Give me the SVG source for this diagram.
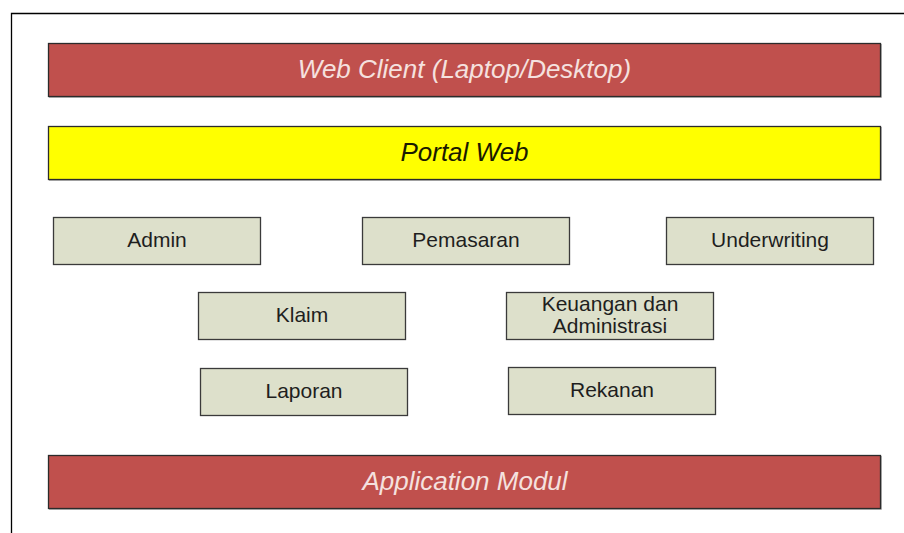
<svg xmlns="http://www.w3.org/2000/svg" width="904" height="533" viewBox="0 0 904 533">
  <style>
    .bar-red { fill: #C0504D; stroke: #2b2b2b; stroke-width: 1.3; }
    .bar-yel { fill: #FFFF00; stroke: #2b2b2b; stroke-width: 1.3; }
    .mod { fill: #DDE0CB; stroke: #3a3a3a; stroke-width: 1.3; }
    .shadow { fill: none; stroke: #b5b5b5; stroke-width: 1; }
    .title-w { font-family: "Liberation Sans", Arial, sans-serif; font-style: italic; font-size: 26px; fill: #F5E1DF; text-anchor: middle; }
    .title-k { font-family: "Liberation Sans", Arial, sans-serif; font-style: italic; font-size: 26px; fill: #1a1a00; text-anchor: middle; }
    .lbl { font-family: "Liberation Sans", Arial, sans-serif; font-size: 21px; fill: #1e1e1e; text-anchor: middle; }
  </style>

  <!-- page frame -->
  <path d="M11.5 533 V13.5 H904" fill="none" stroke="#000" stroke-width="1.3"/>

  <g id="web-client">
    <path class="shadow" d="M49 97.5 H881.5 V44"/>
    <rect class="bar-red" x="48.5" y="43.5" width="832" height="53"/>
    <text class="title-w" x="464.5" y="78">Web Client (Laptop/Desktop)</text>
  </g>

  <g id="portal-web">
    <path class="shadow" d="M49 180.5 H881.5 V127"/>
    <rect class="bar-yel" x="48.5" y="126.5" width="832" height="53"/>
    <text class="title-k" x="464.5" y="161">Portal Web</text>
  </g>

  <g id="admin">
    <rect class="mod" x="53.5" y="217.5" width="207" height="47"/>
    <text class="lbl" x="157" y="247">Admin</text>
  </g>

  <g id="pemasaran">
    <rect class="mod" x="362.5" y="217.5" width="207" height="47"/>
    <text class="lbl" x="466" y="247">Pemasaran</text>
  </g>

  <g id="underwriting">
    <rect class="mod" x="666.5" y="217.5" width="207" height="47"/>
    <text class="lbl" x="770" y="247">Underwriting</text>
  </g>

  <g id="klaim">
    <rect class="mod" x="198.5" y="292.5" width="207" height="47"/>
    <text class="lbl" x="302" y="322">Klaim</text>
  </g>

  <g id="keuangan-administrasi">
    <rect class="mod" x="506.5" y="292.5" width="207" height="47"/>
    <text class="lbl" x="610" y="311">Keuangan dan</text>
    <text class="lbl" x="610" y="333">Administrasi</text>
  </g>

  <g id="laporan">
    <rect class="mod" x="200.5" y="368.5" width="207" height="47"/>
    <text class="lbl" x="304" y="398">Laporan</text>
  </g>

  <g id="rekanan">
    <rect class="mod" x="508.5" y="367.5" width="207" height="47"/>
    <text class="lbl" x="612" y="397">Rekanan</text>
  </g>

  <g id="application-modul">
    <path class="shadow" d="M49 509.5 H881.5 V456"/>
    <rect class="bar-red" x="48.5" y="455.5" width="832" height="53"/>
    <text class="title-w" x="465" y="490">Application Modul</text>
  </g>

  <!-- no connectors are drawn between the layers -->
  <g id="connectors"/>
</svg>
